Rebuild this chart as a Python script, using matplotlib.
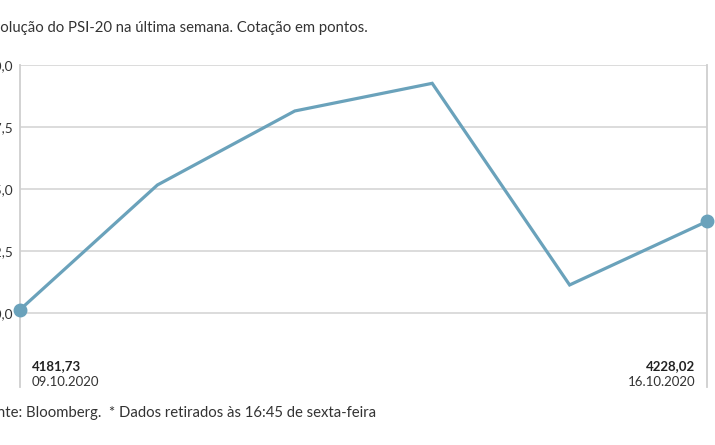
import matplotlib
matplotlib.use("Agg")
import matplotlib.pyplot as plt

dates = ["09.10.2020", "12.10.2020", "13.10.2020", "14.10.2020", "15.10.2020", "16.10.2020"]
values = [4181.73, 4247.1, 4285.9, 4300.4, 4194.7, 4228.02]
yticks = [4180.0, 4212.5, 4245.0, 4277.5, 4310.0]
title = "Evolução do PSI-20 na última semana. Cotação em pontos."
footnote = "Fonte: Bloomberg.  * Dados retirados às 16:45 de sexta-feira"

plt.rcParams['font.family'] = ['Lato', 'DejaVu Sans']
W, H = 715, 445
fig = plt.figure(figsize=(W/100, H/100), dpi=100)
left, right, top, bottom = 20, 707, 65, 387
ax = fig.add_axes([left/W, (H-bottom)/H, (right-left)/W, (bottom-top)/H])

line_color = "#6aa2bb"
xs = list(range(len(values)))
ax.plot(xs, values, color=line_color, lw=2.3, solid_joinstyle='miter', clip_on=False, zorder=3)
ax.plot([xs[0], xs[-1]], [values[0], values[-1]], 'o', color=line_color, ms=9, clip_on=False, zorder=4)

px_per_unit = 62/32.5
ymin = yticks[0] - (bottom-313)/px_per_unit
ax.set_ylim(ymin, yticks[-1])
ax.set_xlim(0, len(values)-1)

for t in yticks:
    ax.axhline(t, color="#d9d9d9", lw=1.3, zorder=1)

for s in ['top', 'bottom']:
    ax.spines[s].set_visible(False)
for s in ['left', 'right']:
    ax.spines[s].set_color("#cfcfcf")
    ax.spines[s].set_linewidth(1.3)

ax.set_xticks([])
ax.set_yticks(yticks)
ax.set_yticklabels([f"{t:.1f}".replace('.', ',') for t in yticks], fontsize=9.8, color="#333333")
ax.tick_params(axis='y', length=0, pad=4.5)

fig.text(-16/W, 1-28/H, title, fontsize=10.7, color="#333333", va='center', ha='left')
fig.text(-20/W, 1-413/H, footnote, fontsize=10.7, color="#333333", va='center', ha='left')

fig.text(32/W, 1-366/H, f"{values[0]:.2f}".replace('.', ','), fontsize=9.5, fontweight='bold', color="#222222", va='center', ha='left')
fig.text(32/W, 1-382.5/H, dates[0], fontsize=9.5, color="#333333", va='center', ha='left')
fig.text(695/W, 1-366/H, f"{values[-1]:.2f}".replace('.', ','), fontsize=9.5, fontweight='bold', color="#222222", va='center', ha='right')
fig.text(695/W, 1-382.5/H, dates[-1], fontsize=9.5, color="#333333", va='center', ha='right')

fig.savefig("out.png", dpi=100)
